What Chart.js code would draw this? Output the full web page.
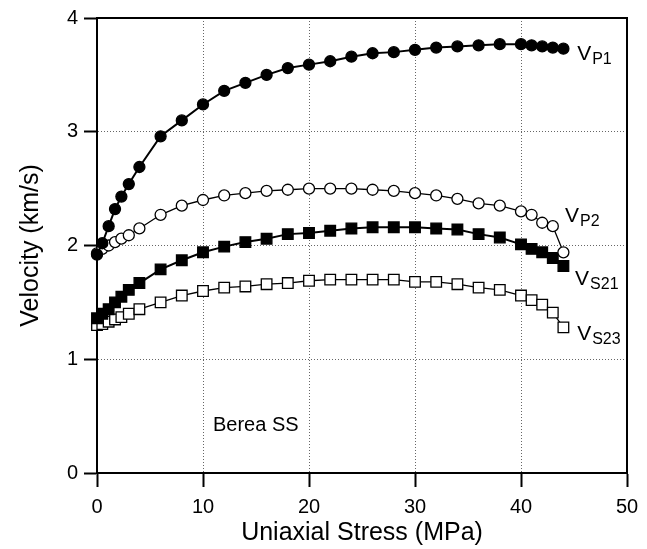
<!DOCTYPE html>
<html>
<head>
<meta charset="utf-8">
<script src="https://cdn.jsdelivr.net/npm/chart.js@4.4.0/dist/chart.umd.min.js"></script>
<style>
  html, body { margin: 0; padding: 0; background: #fff; }
  #wrap { width: 647px; height: 549px; }
</style>
</head>
<body>
<div id="wrap"><canvas id="velocityChart" width="647" height="549"></canvas></div>
<script>
// Berea sandstone, velocity vs uniaxial stress
const stressMPa = [0, 0.5, 1.1, 1.7, 2.3, 3, 4, 6, 8, 10, 12, 14, 16, 18, 20, 22, 24, 26, 28, 30, 32, 34, 36, 38, 40, 41, 42, 43, 44];
const vp1  = [1.92, 2.02, 2.17, 2.32, 2.43, 2.54, 2.69, 2.96, 3.10, 3.24, 3.36, 3.43, 3.50, 3.56, 3.59, 3.62, 3.66, 3.69, 3.70, 3.72, 3.74, 3.75, 3.76, 3.77, 3.77, 3.76, 3.75, 3.74, 3.73];
const vp2  = [1.93, 1.97, 2.00, 2.03, 2.06, 2.09, 2.15, 2.27, 2.35, 2.40, 2.44, 2.46, 2.48, 2.49, 2.50, 2.50, 2.50, 2.49, 2.48, 2.46, 2.44, 2.41, 2.37, 2.35, 2.30, 2.27, 2.20, 2.17, 1.94];
const vs21 = [1.36, 1.40, 1.44, 1.50, 1.55, 1.61, 1.67, 1.79, 1.87, 1.94, 1.99, 2.03, 2.06, 2.10, 2.11, 2.13, 2.15, 2.16, 2.16, 2.16, 2.15, 2.14, 2.10, 2.07, 2.01, 1.97, 1.94, 1.89, 1.82];
const vs23 = [1.30, 1.31, 1.33, 1.35, 1.37, 1.40, 1.44, 1.50, 1.56, 1.60, 1.63, 1.64, 1.66, 1.67, 1.69, 1.70, 1.70, 1.70, 1.70, 1.68, 1.68, 1.66, 1.63, 1.61, 1.56, 1.52, 1.48, 1.41, 1.28];

// curve labels: main letter + subscript, anchored in data units
const curveLabels = [
    { main: 'V', sub: 'P1',  x: 45.3,  y: 3.63 },
    { main: 'V', sub: 'P2',  x: 44.15, y: 2.21 },
    { main: 'V', sub: 'S21', x: 45.1,  y: 1.65 },
    { main: 'V', sub: 'S23', x: 45.3,  y: 1.17 }
];
const sampleNote = { text: 'Berea SS', x: 10.94, y: 0.365 };

const FONT = '"Liberation Sans", Arial, Helvetica, sans-serif';

const toPoints = ys => ys.map((v, i) => ({ x: stressMPa[i], y: v }));

const series = (values, lineW, marker, filled) => ({
    data: toPoints(values),
    showLine: true,
    borderColor: '#000',
    borderWidth: lineW,
    pointStyle: marker.shape,
    pointRadius: marker.size,
    pointBorderWidth: 1.3,
    pointBorderColor: '#000',
    pointBackgroundColor: filled ? '#000' : '#fff',
    clip: false
});

// draws the top/right frame and the text annotations
const annotations = {
    id: 'annotations',
    afterDraw(chart) {
        const { ctx, chartArea, scales } = chart;
        ctx.save();
        ctx.strokeStyle = '#000';
        ctx.lineWidth = 2;
        ctx.beginPath();
        ctx.moveTo(chartArea.left, chartArea.top);
        ctx.lineTo(chartArea.right, chartArea.top);
        ctx.lineTo(chartArea.right, chartArea.bottom);
        ctx.stroke();

        ctx.fillStyle = '#000';
        ctx.textBaseline = 'alphabetic';
        ctx.textAlign = 'left';
        curveLabels.forEach(l => {
            const px = scales.x.getPixelForValue(l.x);
            const py = scales.y.getPixelForValue(l.y);
            ctx.font = '21px ' + FONT;
            ctx.fillText(l.main, px, py);
            const w = ctx.measureText(l.main).width;
            ctx.font = '16px ' + FONT;
            ctx.fillText(l.sub, px + w + 1, py + 4);
        });

        ctx.font = '20px ' + FONT;
        ctx.fillText(sampleNote.text, scales.x.getPixelForValue(sampleNote.x), scales.y.getPixelForValue(sampleNote.y));
        ctx.restore();
    }
};

const gridColor = (ctx, lo, hi) => (ctx.tick && (ctx.tick.value === lo || ctx.tick.value === hi)) ? 'rgba(0,0,0,0)' : '#666';

const ctxVel = document.getElementById('velocityChart').getContext('2d');
const velocityChart = new Chart(ctxVel, {
    type: 'scatter',
    data: {
        datasets: [
            series(vp1,  2,   { shape: 'circle', size: 5.5 }, true),
            series(vp2,  1.3, { shape: 'circle', size: 5.5 }, false),
            series(vs21, 2,   { shape: 'rect',   size: 7.5 }, true),
            series(vs23, 1.3, { shape: 'rect',   size: 7.5 }, false)
        ]
    },
    options: {
        responsive: false,
        animation: false,
        layout: { padding: { top: 13, right: 20, left: 0, bottom: 0 } },
        plugins: {
            legend: { display: false },
            tooltip: { enabled: false }
        },
        scales: {
            x: {
                type: 'linear',
                min: 0,
                max: 50,
                afterFit(scale) { scale.height = 76; },
                ticks: { stepSize: 10, color: '#000', padding: 8, font: { family: FONT, size: 20 } },
                grid: {
                    color: c => gridColor(c, 0, 50),
                    lineWidth: 1,
                    tickColor: '#000',
                    tickLength: 14,
                    tickWidth: 2
                },
                border: { display: true, color: '#000', width: 2, dash: [1, 2] },
                title: {
                    display: true,
                    text: 'Uniaxial Stress (MPa)',
                    color: '#000',
                    font: { family: FONT, size: 25 },
                    padding: { top: 0, bottom: 1 }
                }
            },
            y: {
                min: 0,
                max: 4,
                afterFit(scale) { scale.width = 97; },
                ticks: { stepSize: 1, color: '#000', padding: 6, font: { family: FONT, size: 20 } },
                grid: {
                    color: c => gridColor(c, 0, 4),
                    lineWidth: 1,
                    tickColor: '#000',
                    tickLength: 13,
                    tickWidth: 2
                },
                border: { display: true, color: '#000', width: 2, dash: [1, 2] },
                title: {
                    display: true,
                    text: 'Velocity (km/s)',
                    color: '#000',
                    font: { family: FONT, size: 25 },
                    padding: { top: 16, bottom: 0 }
                }
            }
        }
    },
    plugins: [annotations]
});
</script>
</body>
</html>
